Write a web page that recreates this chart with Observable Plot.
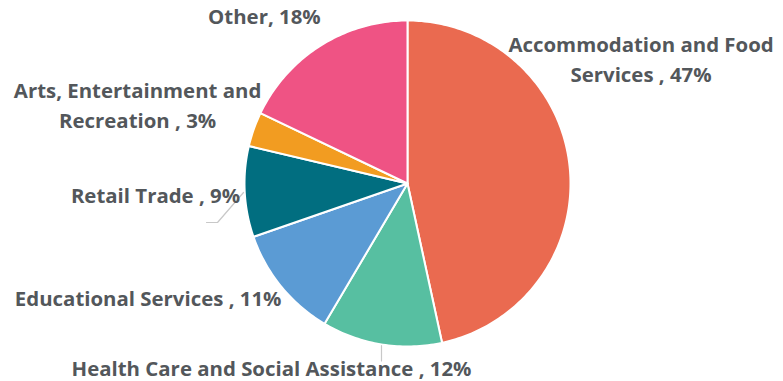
<!DOCTYPE html>
<html>
<head>
<meta charset="utf-8">
<script src="https://cdn.jsdelivr.net/npm/d3@7"></script>
<script src="https://cdn.jsdelivr.net/npm/@observablehq/plot@0.6"></script>
<style>
  html, body { margin: 0; padding: 0; background: #fff; }
  #chart svg { display: block; }
</style>
</head>
<body>
<div id="chart"></div>
<script>
// ---- data (shares; labels show them rounded) ----
const categories = [
  "Accommodation and Food Services",
  "Health Care and Social Assistance",
  "Educational Services",
  "Retail Trade",
  "Arts, Entertainment and Recreation",
  "Other"
];
const values = [46.6, 11.9, 11.2, 9.0, 3.4, 17.9];
const labelNames = [
  "Accommodation and Food\nServices ",
  "Health Care and Social Assistance ",
  "Educational Services ",
  "Retail Trade ",
  "Arts, Entertainment and\nRecreation ",
  "Other"
];
const colors = ["#ea6a50", "#57bfa1", "#5b9bd4", "#016e80", "#f29c21", "#ef5384"];

// ---- layout (styles, not data) ----
const W = 783, H = 381;
const cx = 407.5, cy = 183.5, R = 163;
const textColor = "#53575b";
const fontSize = 20.4;
const lineHeight = 1.45;
// Plot scales the "top" line anchor offset by lineHeight; compensate so caps start at y
const topFix = -0.71 * (lineHeight - 1) * fontSize;

// ---- pie geometry from data ----
const pie = d3.pie().sort(null).value(d => d.value)(
  categories.map((c, i) => ({category: c, value: values[i], label: labelNames[i] + ", " + Math.round(values[i]) + "%"}))
);
const slices = pie.map(p => ({...p.data, a0: p.startAngle, a1: p.endAngle, mid: (p.startAngle + p.endAngle) / 2}));

const arcPts = [];
for (const s of slices) {
  const n = Math.max(2, Math.ceil((s.a1 - s.a0) / (Math.PI / 180)));
  for (let k = 0; k <= n; k++) {
    const a = s.a0 + (s.a1 - s.a0) * k / n;
    arcPts.push({category: s.category, x: Math.sin(a), y: Math.cos(a)});
  }
}

// label nudges in pixels relative to the slice's mid-angle edge point
const nudge = {
  "Accommodation and Food Services": {dx: 71, dy: -129, anchor: "middle"},
  "Health Care and Social Assistance": {dx: -110.5, dy: 16.2, anchor: "middle"},
  "Educational Services": {dx: -0.3, dy: 4.8, anchor: "end"},
  "Retail Trade": {dx: -5.1, dy: -4.1, anchor: "end"},
  "Arts, Entertainment and Recreation": {dx: -116.7, dy: -46.1, anchor: "middle"},
  "Other": {dx: -0.4, dy: -36.7, anchor: "end"}
};

const labelMarks = slices.map(s => Plot.text([s], {
  x: d => Math.sin(d.mid),
  y: d => Math.cos(d.mid),
  text: "label",
  dx: nudge[s.category].dx,
  dy: nudge[s.category].dy + topFix,
  textAnchor: nudge[s.category].anchor,
  lineAnchor: "top",
  lineHeight: lineHeight,
  fill: textColor,
  fontSize: fontSize,
  fontWeight: 700,
  fontFamily: "Open Sans"
}));

// leader lines (pixel offsets from the slice's mid-angle edge point; screen y down)
const leaderPath = {
  "Retail Trade": [[-1.7, 0.3], [-27.7, 30.3], [-38.7, 30.3]],
  "Health Care and Social Assistance": [[-0.5, 0.8], [-0.5, 16]]
};
const leaders = [];
for (const s of slices) {
  const pts = leaderPath[s.category];
  if (!pts) continue;
  for (const [px, py] of pts) {
    leaders.push({id: s.category, x: Math.sin(s.mid) + px / R, y: Math.cos(s.mid) - py / R});
  }
}

const chart = Plot.plot({
  width: W,
  height: H,
  marginLeft: cx - R,
  marginRight: W - (cx + R),
  marginTop: cy - R,
  marginBottom: H - (cy + R),
  x: {domain: [-1, 1], axis: null},
  y: {domain: [-1, 1], axis: null},
  color: {domain: categories, range: colors},
  style: {background: "#fff", fontFamily: "Open Sans", overflow: "visible"},
  marks: [
    Plot.area(arcPts, {
      x1: 0, y1: 0, x2: "x", y2: "y", z: "category",
      fill: "category",
      stroke: "#fff",
      strokeWidth: 2,
      strokeLinejoin: "round"
    }),
    Plot.line(leaders, {x: "x", y: "y", z: "id", stroke: "#c8c8c8", strokeWidth: 1.2}),
    ...labelMarks
  ]
});
document.getElementById("chart").appendChild(chart);
</script>
</body>
</html>
